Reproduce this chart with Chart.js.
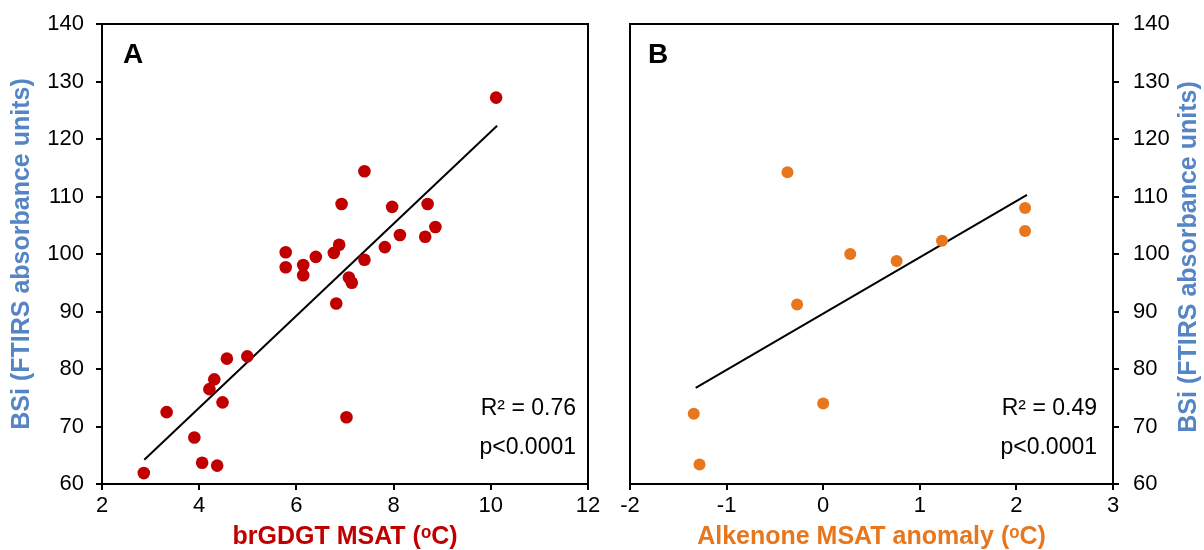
<!DOCTYPE html>
<html>
<head>
<meta charset="utf-8">
<script src="https://cdn.jsdelivr.net/npm/chart.js@4.4.0/dist/chart.umd.min.js"></script>
<style>
  body { margin: 0; background: #fff; }
  #wrap { position: relative; width: 1204px; height: 550px; }
  canvas { position: absolute; top: 0; }
</style>
</head>
<body>
<div id="wrap">
  <canvas id="canvasA" width="600" height="550" style="left:0"></canvas>
  <canvas id="canvasB" width="604" height="550" style="left:600px"></canvas>
</div>
<script>
// panel A - brGDGT MSAT vs BSi
var brX = [10.11, 7.40, 6.93, 7.97, 8.70, 8.86, 8.13, 8.65, 7.82, 6.88, 6.77, 5.78, 6.40, 7.40, 6.14, 5.78,
           6.14, 7.08, 7.14, 6.82, 4.99, 4.57, 4.31, 4.21, 4.48, 3.33, 7.03, 3.90, 4.06, 4.37, 2.86];
var brY = [127.2, 114.4, 108.7, 108.2, 108.7, 104.7, 103.3, 103.0, 101.2, 101.6, 100.2, 100.3, 99.5, 99.0, 98.1, 97.7,
           96.3, 95.9, 95.0, 91.4, 82.2, 81.8, 78.2, 76.5, 74.2, 72.5, 71.6, 68.1, 63.7, 63.2, 61.9];
var trendAX = [2.87, 10.13];
var trendAY = [64.2, 122.3];

// panel B - alkenone MSAT anomaly vs BSi
var alkX = [-0.37, 2.09, 2.09, 1.23, 0.28, 0.76, -0.27, 0.00, -1.34, -1.28];
var alkY = [114.2, 108.0, 104.0, 102.3, 100.0, 98.8, 91.2, 74.0, 72.2, 63.4];
var trendBX = [-1.32, 2.11];
var trendBY = [76.7, 110.3];

var yTitle = 'BSi (FTIRS absorbance units)';
var statsA = ['R² = 0.76', 'p<0.0001'];
var statsB = ['R² = 0.49', 'p<0.0001'];

var FONT = '"Liberation Sans", Arial, Helvetica, sans-serif';
Chart.defaults.font.family = FONT;
Chart.defaults.color = '#000';

function pts(xs, ys) {
    return xs.map(function(x, i) { return {x: x, y: ys[i]}; });
}

// box around plot + panel letter + stats text
function panelPlugin(letter, stats, statsRight, rightTitle) {
    return {
        id: 'panel' + letter,
        afterDraw: function(chart) {
            var ctx = chart.ctx, a = chart.chartArea;
            ctx.save();
            ctx.strokeStyle = '#000';
            ctx.lineWidth = 2;
            ctx.strokeRect(a.left, a.top, a.right - a.left, a.bottom - a.top);
            ctx.fillStyle = '#000';
            ctx.font = 'bold 28px ' + FONT;
            ctx.textBaseline = 'middle';
            ctx.textAlign = 'left';
            ctx.fillText(letter, a.left + (letter == 'A' ? 21 : 18), a.top + 31);
            ctx.font = '23px ' + FONT;
            ctx.textAlign = 'right';
            ctx.fillText(stats[0], a.right - statsRight, a.bottom - 75);
            ctx.fillText(stats[1], a.right - statsRight, a.bottom - 36);
            if (rightTitle) {
                ctx.translate(589, (a.top + a.bottom) / 2 + 3);
                ctx.rotate(-Math.PI / 2);
                ctx.textAlign = 'center';
                ctx.fillStyle = '#5585C5';
                ctx.font = 'bold 25px ' + FONT;
                ctx.fillText(rightTitle, 0, 0);
            }
            ctx.restore();
        }
    };
}

function axisBase(min, max, step) {
    return {
        type: 'linear',
        min: min,
        max: max,
        ticks: { stepSize: step, font: { size: 22 }, color: '#000' },
        grid: { drawOnChartArea: false, drawTicks: true, tickLength: 6, color: '#000', lineWidth: 2 },
        border: { display: true, color: '#000', width: 2 }
    };
}

// ---- chart A
var xA = axisBase(2, 12, 2);
xA.ticks.padding = 3;
xA.title = { display: true, text: 'brGDGT MSAT (ᵒC)', color: '#C00000',
             font: { size: 25, weight: 'bold', lineHeight: 1 }, padding: { top: 0, bottom: 0 } };
xA.afterFit = function(s) { s.height = 66; s.paddingLeft = 0; s.paddingRight = 0; };

var yA = axisBase(60, 140, 10);
yA.position = 'left';
yA.ticks.padding = 12;
yA.title = { display: true, text: yTitle, color: '#5585C5',
             font: { size: 25, weight: 'bold', lineHeight: 1 }, padding: { top: 10, bottom: 0 } };
yA.afterFit = function(s) { s.width = 102; s.paddingTop = 0; s.paddingBottom = 0; };

var ctx = document.getElementById('canvasA').getContext('2d');
var chartA = new Chart(ctx, {
    type: 'scatter',
    data: {
        datasets: [{
            data: pts(brX, brY),
            backgroundColor: '#C00000',
            borderColor: '#C00000',
            pointRadius: 6.3,
            borderWidth: 0
        }, {
            type: 'line',
            data: pts(trendAX, trendAY),
            borderColor: '#000',
            borderWidth: 2,
            pointRadius: 0,
            fill: false
        }]
    },
    options: {
        responsive: false,
        animation: false,
        layout: { padding: { top: 24, right: 12, left: 0, bottom: 0 } },
        plugins: { legend: { display: false }, tooltip: { enabled: false } },
        scales: { x: xA, y: yA }
    },
    plugins: [panelPlugin('A', statsA, 12, null)]
});

// ---- chart B
var xB = axisBase(-2, 3, 1);
xB.ticks.padding = 3;
xB.title = { display: true, text: 'Alkenone MSAT anomaly (ᵒC)', color: '#E8761C',
             font: { size: 25, weight: 'bold', lineHeight: 1 }, padding: { top: 0, bottom: 0 } };
xB.afterFit = function(s) { s.height = 66; s.paddingLeft = 0; s.paddingRight = 0; };

var yB = axisBase(60, 140, 10);
yB.position = 'right';
yB.ticks.padding = 14;
yB.afterFit = function(s) { s.width = 91; s.paddingTop = 0; s.paddingBottom = 0; };

var ctx = document.getElementById('canvasB').getContext('2d');
var chartB = new Chart(ctx, {
    type: 'scatter',
    data: {
        datasets: [{
            data: pts(alkX, alkY),
            backgroundColor: '#E8761C',
            borderColor: '#E8761C',
            pointRadius: 6,
            borderWidth: 0
        }, {
            type: 'line',
            data: pts(trendBX, trendBY),
            borderColor: '#000',
            borderWidth: 2,
            pointRadius: 0,
            fill: false
        }]
    },
    options: {
        responsive: false,
        animation: false,
        layout: { padding: { top: 24, right: 0, left: 30, bottom: 0 } },
        plugins: { legend: { display: false }, tooltip: { enabled: false } },
        scales: { x: xB, y: yB }
    },
    plugins: [panelPlugin('B', statsB, 16, yTitle)]
});
</script>
</body>
</html>
